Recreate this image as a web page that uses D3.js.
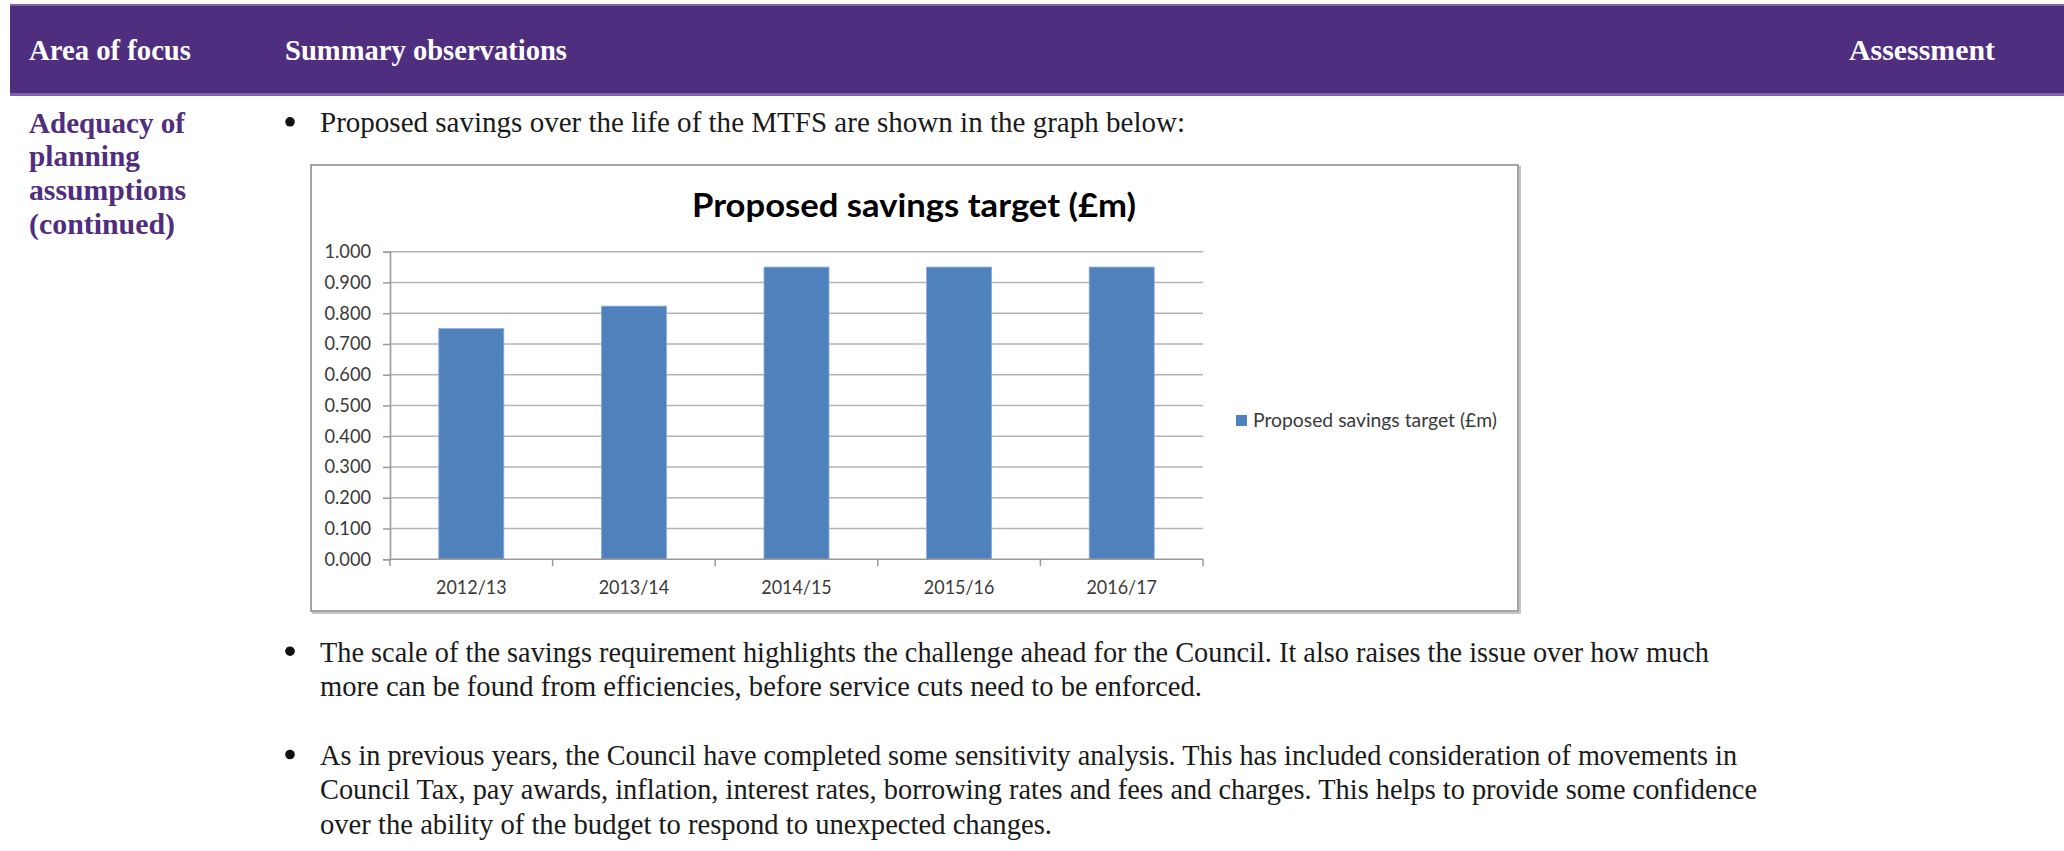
<!DOCTYPE html>
<html>
<head>
<meta charset="utf-8">
<script src="https://cdn.jsdelivr.net/npm/d3@7"></script>
<style>
  html, body { margin: 0; padding: 0; background: #ffffff; }
  svg { display: block; }
</style>
</head>
<body>
<svg id="page" width="2064" height="851"></svg>
<script>
// Savings plan figures (£m) by financial year
const categories = ["2012/13", "2013/14", "2014/15", "2015/16", "2016/17"];
const savings = [0.75, 0.823, 0.95, 0.95, 0.95];
const yTicks = [0, 0.1, 0.2, 0.3, 0.4, 0.5, 0.6, 0.7, 0.8, 0.9, 1.0];
const seriesName = "Proposed savings target (£m)";
const chartTitle = "Proposed savings target (£m)";

// Table header and body copy
const headers = [
  { text: "Area of focus", x: 29, w: 162 },
  { text: "Summary observations", x: 285, w: 282 },
  { text: "Assessment", x: 1849, w: 146 }
];
const focusLines = [
  { text: "Adequacy of", w: 156 },
  { text: "planning", w: 111 },
  { text: "assumptions", w: 157 },
  { text: "(continued)", w: 146 }
];
const bulletOne = [
  { text: "Proposed savings over the life of the MTFS are shown in the graph below:", w: 865 }
];
const bulletTwo = [
  { text: "The scale of the savings requirement highlights the challenge ahead for the Council. It also raises the issue over how much", w: 1389 },
  { text: "more can be found from efficiencies, before service cuts need to be enforced.", w: 882 }
];
const bulletThree = [
  { text: "As in previous years, the Council have completed some sensitivity analysis. This has included consideration of movements in", w: 1417 },
  { text: "Council Tax, pay awards, inflation, interest rates, borrowing rates and fees and charges. This helps to provide some confidence", w: 1437 },
  { text: "over the ability of the budget to respond to unexpected changes.", w: 732 }
];

const purple = "#4F2D7F";
const barBlue = "#4F81BD";
const serif = "'Liberation Serif', 'Times New Roman', serif";
const sans = "Lato, 'Open Sans', sans-serif";

const svg = d3.select("#page");

// ---- Header band ----
svg.append("rect").attr("x", 10).attr("y", 4).attr("width", 2054).attr("height", 92).attr("fill", purple);
svg.append("rect").attr("x", 10).attr("y", 4).attr("width", 2054).attr("height", 2).attr("fill", "#8062A8");
svg.append("rect").attr("x", 10).attr("y", 93).attr("width", 2054).attr("height", 3).attr("fill", "#8062A8");

svg.selectAll("text.hdr").data(headers).join("text")
  .attr("class", "hdr")
  .attr("x", d => d.x).attr("y", 59.5)
  .attr("textLength", d => d.w).attr("lengthAdjust", "spacingAndGlyphs")
  .attr("font-family", serif).attr("font-weight", "bold").attr("font-size", 30)
  .attr("fill", "#ffffff")
  .text(d => d.text);

// ---- Left column: area of focus ----
svg.selectAll("text.focus").data(focusLines).join("text")
  .attr("class", "focus")
  .attr("x", 29).attr("y", (d, i) => 132.7 + i * 33.6)
  .attr("textLength", d => d.w).attr("lengthAdjust", "spacingAndGlyphs")
  .attr("font-family", serif).attr("font-weight", "bold").attr("font-size", 29)
  .attr("fill", purple)
  .text(d => d.text);

// ---- Bulleted paragraphs ----
function paragraph(lines, baseline) {
  svg.append("circle").attr("cx", 290).attr("cy", baseline - 10.5).attr("r", 4.8).attr("fill", "#111");
  svg.append("g").selectAll("text").data(lines).join("text")
    .attr("x", 320).attr("y", (d, i) => baseline + i * 34.3)
    .attr("textLength", d => d.w).attr("lengthAdjust", "spacingAndGlyphs")
    .attr("font-family", serif).attr("font-size", 28.5)
    .attr("fill", "#1a1a1a")
    .text(d => d.text);
}
paragraph(bulletOne, 132.3);
paragraph(bulletTwo, 661.7);
paragraph(bulletThree, 765);

// ---- Chart frame ----
const frame = { x: 311, y: 165, w: 1207, h: 446 };
svg.append("rect")
  .attr("x", frame.x + 2).attr("y", frame.y + 2).attr("width", frame.w).attr("height", frame.h)
  .attr("fill", "none").attr("stroke", "#c4c4c4").attr("stroke-width", 2);
svg.append("rect")
  .attr("x", frame.x).attr("y", frame.y).attr("width", frame.w).attr("height", frame.h)
  .attr("fill", "#ffffff").attr("stroke", "#8e8e8e").attr("stroke-width", 1.6);

// ---- Chart title ----
svg.append("text")
  .attr("x", 914).attr("y", 216.7).attr("text-anchor", "middle")
  .attr("textLength", 444).attr("lengthAdjust", "spacingAndGlyphs")
  .attr("font-family", sans).attr("font-weight", "bold").attr("font-size", 32)
  .attr("fill", "#000")
  .text(chartTitle);

// ---- Scales ----
const plot = { left: 390, right: 1203, top: 251.7, bottom: 559.2 };
const y = d3.scaleLinear().domain([0, 1]).range([plot.bottom, plot.top]);
const slot = d3.scaleBand().domain(categories).range([plot.left, plot.right]).padding(0);
const x = d3.scaleBand().domain(categories).range([plot.left, plot.right])
  .paddingInner(0.6).paddingOuter(0.3);

const gridColor = "#b5b5b5";
const axisColor = "#9a9a9a";

// Horizontal gridlines
svg.append("g").selectAll("line").data(yTicks.filter(t => t > 0)).join("line")
  .attr("x1", plot.left).attr("x2", plot.right)
  .attr("y1", d => y(d)).attr("y2", d => y(d))
  .attr("stroke", gridColor).attr("stroke-width", 1.5);

// Bars
svg.append("g").selectAll("rect").data(savings).join("rect")
  .attr("x", (d, i) => x(categories[i]))
  .attr("width", x.bandwidth())
  .attr("y", d => y(d))
  .attr("height", d => y(0) - y(d))
  .attr("fill", barBlue)
  .attr("stroke", "#8eaedb").attr("stroke-width", 0.8);

// Y axis
const yAxis = svg.append("g")
  .attr("transform", `translate(${plot.left},0)`)
  .call(d3.axisLeft(y).tickValues(yTicks).tickFormat(d3.format(".3f")).tickSize(7).tickPadding(12));
yAxis.select(".domain").attr("stroke", axisColor).attr("stroke-width", 1.6);
yAxis.selectAll(".tick line").attr("stroke", axisColor).attr("stroke-width", 1.5);
yAxis.selectAll(".tick text")
  .attr("font-family", sans).attr("font-size", 18.5).attr("fill", "#3a3a3a")
  .attr("textLength", 46.5).attr("lengthAdjust", "spacingAndGlyphs");

// X axis: baseline, boundary ticks, category labels
svg.append("line")
  .attr("x1", plot.left).attr("x2", plot.right)
  .attr("y1", y(0)).attr("y2", y(0))
  .attr("stroke", axisColor).attr("stroke-width", 1.6);
const boundaries = categories.map(c => slot(c)).concat([plot.right]);
svg.append("g").selectAll("line").data(boundaries).join("line")
  .attr("x1", d => d).attr("x2", d => d)
  .attr("y1", y(0)).attr("y2", y(0) + 7)
  .attr("stroke", axisColor).attr("stroke-width", 1.5);
const xAxis = svg.append("g")
  .attr("transform", `translate(0,${y(0)})`)
  .call(d3.axisBottom(slot).tickSize(0).tickPadding(22));
xAxis.select(".domain").remove();
xAxis.selectAll(".tick text")
  .attr("font-family", sans).attr("font-size", 18.5).attr("fill", "#3a3a3a")
  .attr("textLength", 70.5).attr("lengthAdjust", "spacingAndGlyphs");

// Legend
const legend = svg.append("g").attr("transform", "translate(1236,415)");
legend.append("rect").attr("width", 11).attr("height", 11).attr("fill", barBlue);
legend.append("text")
  .attr("x", 17).attr("y", 5.5).attr("dy", "0.35em")
  .attr("textLength", 244).attr("lengthAdjust", "spacingAndGlyphs")
  .attr("font-family", sans).attr("font-size", 18.5).attr("fill", "#3a3a3a")
  .text(seriesName);
</script>
</body>
</html>
